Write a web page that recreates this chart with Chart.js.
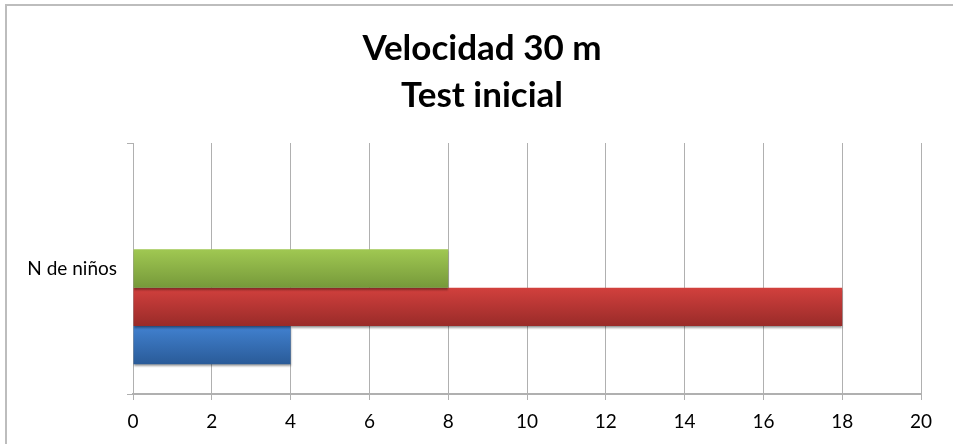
<!DOCTYPE html>
<html>
<head>
<meta charset="utf-8">
<script src="https://cdn.jsdelivr.net/npm/chart.js@4/dist/chart.umd.min.js"></script>
<style>
  html,body{margin:0;padding:0;background:#fff;}
  #wrap{position:relative;width:953px;height:444px;}
  canvas{display:block;}
</style>
</head>
<body>
<div id="wrap"><canvas id="c" width="953" height="444"></canvas></div>
<script>
const titleLines = ["Velocidad 30 m", "Test inicial"];
const categories = ["N de niños"];
const greenValues = [8];
const redValues = [18];
const blueValues = [4];
const xTicks = [0, 2, 4, 6, 8, 10, 12, 14, 16, 18, 20];

const gradStops = {
  green: ["#a0c852", "#76993a"],
  red:   ["#d2403d", "#992b29"],
  blue:  ["#4181d0", "#2a5b98"],
  none:  ["rgba(0,0,0,0)", "rgba(0,0,0,0)"]
};

const gradientPlugin = {
  id: 'barGradient',
  beforeDatasetsDraw(chart) {
    const ctx = chart.ctx;
    chart.data.datasets.forEach((ds, i) => {
      const meta = chart.getDatasetMeta(i);
      const stops = gradStops[ds.colorKey];
      meta.data.forEach(el => {
        if (!el || el.height === undefined) return;
        const top = el.y - el.height / 2, bottom = el.y + el.height / 2;
        const g = ctx.createLinearGradient(0, top, 0, bottom);
        g.addColorStop(0, stops[0]);
        g.addColorStop(1, stops[1]);
        el.options.backgroundColor = g;
      });
    });
    ctx.save();
    ctx.shadowColor = 'rgba(0,0,0,0.38)';
    ctx.shadowOffsetY = 2;
    ctx.shadowOffsetX = 0;
    ctx.shadowBlur = 2;
  },
  afterDatasetsDraw(chart) {
    chart.ctx.restore();
  }
};

const framePlugin = {
  id: 'frame',
  beforeDraw(chart) {
    const ctx = chart.ctx;
    ctx.save();
    ctx.strokeStyle = '#bdbdbd';
    ctx.lineWidth = 2;
    ctx.beginPath();
    ctx.moveTo(6, 444);
    ctx.lineTo(6, 5);
    ctx.lineTo(953, 5);
    ctx.stroke();
    ctx.restore();
  }
};

const gridColor = '#b0b0b0';
const fontFam = 'Lato, "Open Sans", sans-serif';

new Chart(document.getElementById('c'), {
  type: 'bar',
  data: {
    labels: categories,
    datasets: [
      { label: '', data: [null], colorKey: 'none' },
      { label: '', data: [null], colorKey: 'none' },
      { label: 'Serie 3', data: greenValues, colorKey: 'green' },
      { label: 'Serie 2', data: redValues, colorKey: 'red' },
      { label: 'Serie 1', data: blueValues, colorKey: 'blue' }
    ]
  },
  options: {
    indexAxis: 'y',
    responsive: false,
    animation: false,
    devicePixelRatio: 1,
    datasets: {
      bar: { categoryPercentage: 0.7636, barPercentage: 1.0, borderWidth: 0 }
    },
    layout: { padding: { left: 11, right: 0, top: 0, bottom: 0 } },
    plugins: {
      legend: { display: false },
      tooltip: { enabled: false },
      title: {
        display: true,
        text: titleLines,
        color: '#000',
        font: { family: fontFam, size: 35, weight: 'bold', lineHeight: 1.343 },
        padding: { top: 25, bottom: 24 }
      }
    },
    scales: {
      x: {
        min: 0, max: 20,
        afterBuildTicks(scale) { scale.ticks = xTicks.map(v => ({ value: v })); },
        afterFit(scale) { scale.height = 50; scale.paddingRight = 32; },
        ticks: {
          color: '#000',
          font: { family: fontFam, size: 19 },
          padding: 10,
          maxRotation: 0
        },
        grid: { color: gridColor, tickLength: 6, lineWidth: 1, drawOnChartArea: true },
        border: { display: true, color: gridColor, width: 2 }
      },
      y: {
        offset: true,
        afterFit(scale) { scale.width = 122; },
        ticks: {
          color: '#000',
          font: { family: fontFam, size: 19 },
          padding: 10
        },
        grid: { offset: true, drawOnChartArea: false, color: gridColor, tickLength: 6 },
        border: { display: true, color: gridColor, width: 1 }
      }
    }
  },
  plugins: [gradientPlugin, framePlugin]
});
</script>
</body>
</html>
